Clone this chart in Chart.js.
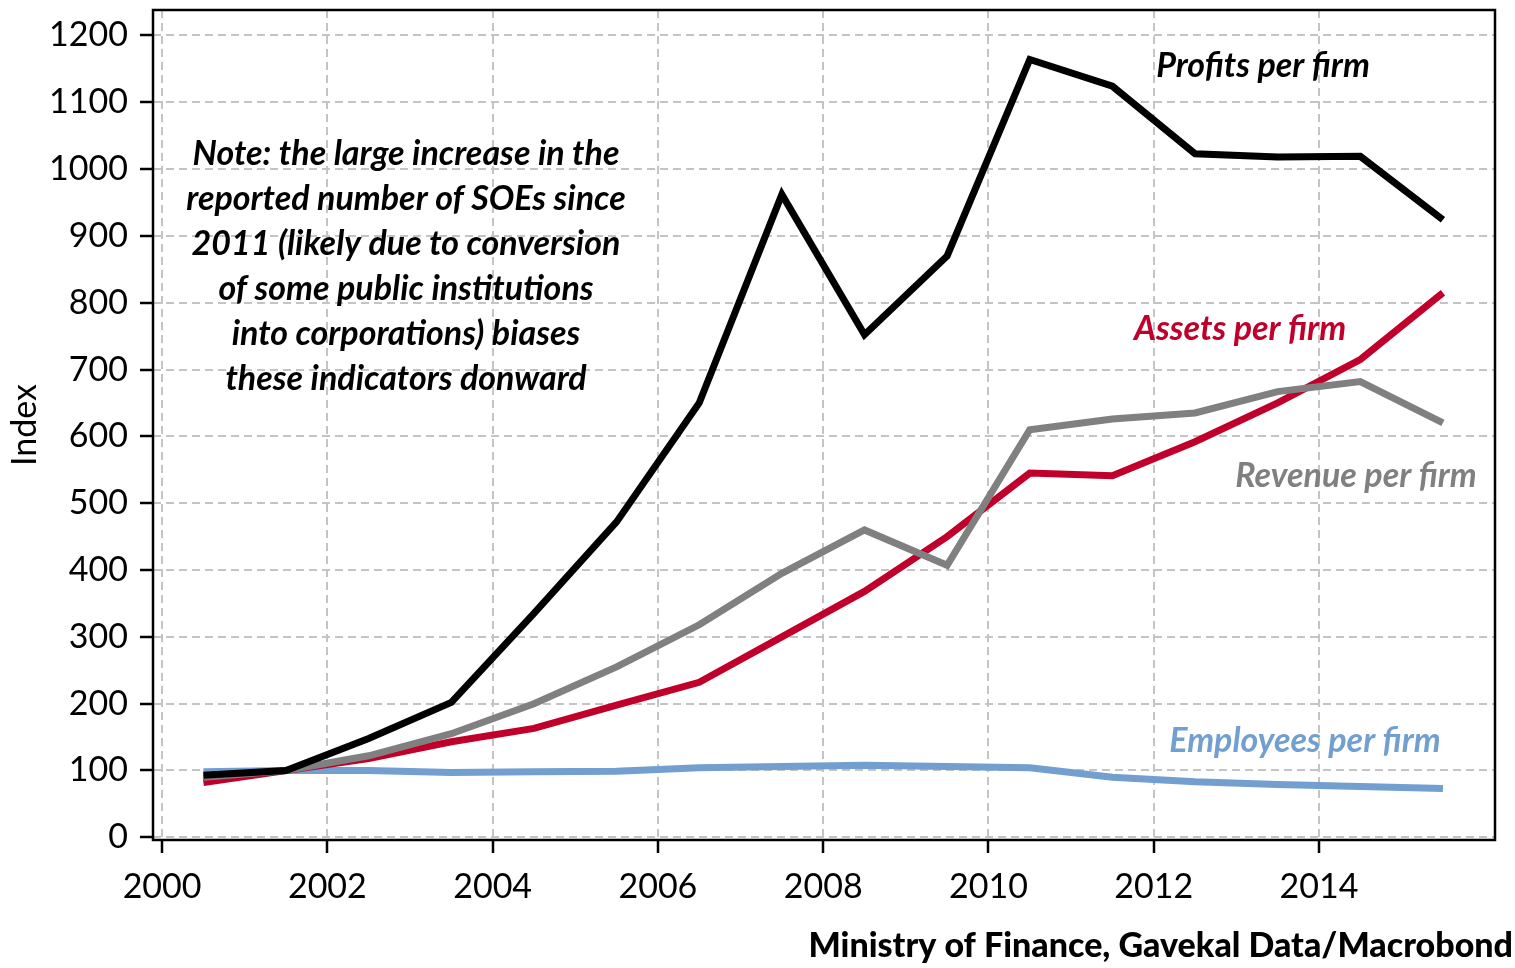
<!DOCTYPE html>
<html lang="en">
<head>
<meta charset="UTF-8">
<title>SOE indicators per firm</title>
<script src="https://cdn.jsdelivr.net/npm/chart.js@4"></script>
<style>
  html, body { margin:0; padding:0; background:#fff; }
  #wrap { width:1515px; height:968px; position:relative; }
</style>
</head>
<body>
<div id="wrap"><canvas id="chart" width="1515" height="968"></canvas></div>
<script>
// data, index (2001 = 100), one point per year plotted at mid-year
var years     = [2000.5, 2001.5, 2002.5, 2003.5, 2004.5, 2005.5, 2006.5, 2007.5, 2008.5, 2009.5, 2010.5, 2011.5, 2012.5, 2013.5, 2014.5, 2015.5];
var profits   = [93, 100, 148, 202, 335, 472, 650, 962, 752, 870, 1164, 1124, 1023, 1018, 1019, 924];
var revenue   = [90, 100, 122, 155, 200, 255, 318, 395, 460, 407, 610, 626, 635, 667, 682, 620];
var assets    = [82, 100, 118, 143, 163, 198, 232, 300, 368, 450, 545, 541, 592, 650, 715, 815];
var employees = [98, 100, 100, 97, 98, 99, 104, 106, 108, 106, 104, 90, 83, 79, 76, 73];
var xTicks = [2000, 2002, 2004, 2006, 2008, 2010, 2012, 2014];
var yTicks = [0, 100, 200, 300, 400, 500, 600, 700, 800, 900, 1000, 1100, 1200];

var noteLines = [
  "Note: the large increase in the",
  "reported number of SOEs since",
  "2011 (likely due to conversion",
  "of some public institutions",
  "into corporations) biases",
  "these indicators donward"
];

var FONT = "Lato, 'Open Sans', sans-serif";

function pts(vals) {
  return years.map(function (x, i) { return { x: x, y: vals[i] }; });
}
function line(label, vals, color, order) {
  return {
    label: label, data: pts(vals), borderColor: color, borderWidth: 7,
    pointRadius: 0, tension: 0, borderJoinStyle: 'miter', order: order
  };
}

var overlay = {
  id: 'overlay',
  afterDraw: function (chart) {
    var ctx = chart.ctx, a = chart.chartArea;
    ctx.save();
    // frame
    ctx.strokeStyle = '#000';
    ctx.lineWidth = 2.5;
    ctx.strokeRect(a.left, a.top, a.right - a.left, a.bottom - a.top);

    // series labels
    ctx.textAlign = 'center';
    ctx.textBaseline = 'alphabetic';
    ctx.font = "italic bold 34px " + FONT;
    ctx.fillStyle = '#000';     ctx.fillText('Profits per firm', 1263, 77);
    ctx.fillStyle = '#c0002a';  ctx.fillText('Assets per firm', 1240, 340);
    ctx.fillStyle = '#808080';  ctx.fillText('Revenue per firm', 1356, 487);
    ctx.fillStyle = '#729fcf';  ctx.fillText('Employees per firm', 1305, 752);

    // note
    ctx.fillStyle = '#000';
    ctx.font = "italic bold 34px " + FONT;
    noteLines.forEach(function (t, i) { ctx.fillText(t, 406, 165 + i * 45); });

    // source
    ctx.textAlign = 'right';
    ctx.font = "900 34px " + FONT;
    ctx.fillText('Ministry of Finance, Gavekal Data/Macrobond', 1513, 957);
    ctx.restore();
  }
};

new Chart(document.getElementById('chart'), {
  type: 'line',
  data: {
    datasets: [
      line('Profits per firm', profits, '#000000', 0),
      line('Revenue per firm', revenue, '#808080', 1),
      line('Assets per firm', assets, '#c0002a', 2),
      line('Employees per firm', employees, '#729fcf', 3)
    ]
  },
  options: {
    responsive: false,
    animation: false,
    devicePixelRatio: 1,
    layout: { padding: { left: 0, right: 20, top: 10, bottom: 0 } },
    plugins: { legend: { display: false }, tooltip: { enabled: false } },
    scales: {
      x: {
        type: 'linear', min: 1999.89, max: 2016.13,
        afterBuildTicks: function (s) { s.ticks = xTicks.map(function (v) { return { value: v }; }); },
        afterFit: function (s) { s.height = 128; s.paddingLeft = 0; s.paddingRight = 0; },
        ticks: { color: '#000', font: { family: FONT, size: 34 }, padding: 14, maxRotation: 0,
                 callback: function (v) { return String(v); } },
        grid: { color: '#c4c4c4', lineWidth: 2, tickColor: '#000', tickWidth: 2.5, tickLength: 13 },
        border: { display: false, dash: [8, 5] }
      },
      y: {
        min: -4, max: 1238,
        afterBuildTicks: function (s) { s.ticks = yTicks.map(function (v) { return { value: v }; }); },
        afterFit: function (s) { s.width = 153; s.paddingTop = 0; s.paddingBottom = 0; },
        ticks: { color: '#000', font: { family: FONT, size: 34 }, padding: 12,
                 callback: function (v) { return String(v); } },
        grid: { color: '#c4c4c4', lineWidth: 2, tickColor: '#000', tickWidth: 2.5, tickLength: 13 },
        border: { display: false, dash: [8, 5] },
        title: { display: true, text: 'Index', color: '#000', font: { family: FONT, size: 34 }, padding: { top: 5, bottom: 0 } }
      }
    }
  },
  plugins: [overlay]
});
</script>
</body>
</html>
